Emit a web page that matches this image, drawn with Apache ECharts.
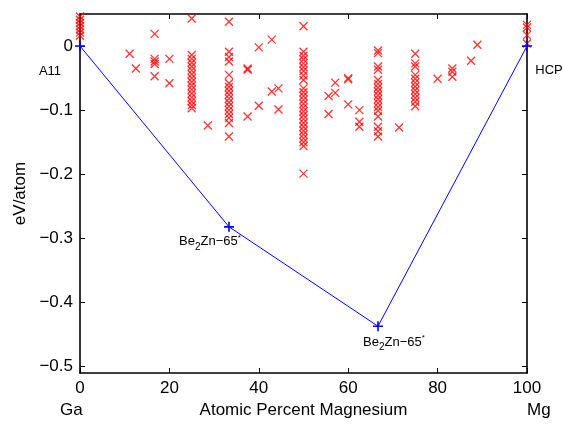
<!DOCTYPE html>
<html>
<head>
<meta charset="utf-8">
<title>Ga-Mg</title>
<script src="https://cdn.jsdelivr.net/npm/echarts@6/dist/echarts.min.js"></script>
<style>
  html, body { margin: 0; padding: 0; background: #fff; }
  #chart { width: 563px; height: 424px; }
</style>
</head>
<body>
<div id="chart"></div>
<script>
// ground-state hull (composition %Mg, energy eV/atom)
var hullX = [0, 33.33, 66.67, 100];
var hullE = [0, -0.282, -0.437, 0];
var hullNames = ['A11', 'Be2Zn-65*', 'Be2Zn-65*', 'HCP'];

// calculated structures, grouped by composition
var compX = [0, 11.1, 12.5, 16.7, 20, 25, 28.6, 33.33, 37.5, 40, 42.9, 44.4, 50,
  55.6, 57.1, 60, 62.5, 66.67, 71.4, 75, 80, 83.3, 87.5, 88.9, 100];
var compE = [
  [0.051, 0.046, 0.041, 0.036, 0.031, 0.026, 0.021, 0.016],
  [-0.012],
  [-0.035],
  [0.019, -0.020, -0.024, -0.028, -0.047],
  [-0.020, -0.058],
  [0.043, -0.014, -0.020, -0.026, -0.032, -0.038, -0.044, -0.050, -0.056, -0.062, -0.068, -0.074, -0.080, -0.086, -0.092, -0.097],
  [-0.124],
  [0.038, -0.009, -0.017, -0.024, -0.045, -0.058, -0.064, -0.070, -0.076, -0.082, -0.088, -0.094, -0.100, -0.106, -0.112, -0.120, -0.141],
  [-0.035, -0.037, -0.110],
  [-0.002, -0.093],
  [0.010, -0.071],
  [-0.066, -0.099],
  [0.031, -0.009, -0.015, -0.021, -0.027, -0.033, -0.039, -0.046, -0.053, -0.066, -0.072, -0.078, -0.084, -0.090, -0.096, -0.102, -0.108, -0.114, -0.120, -0.126, -0.132, -0.138, -0.144, -0.150, -0.156, -0.199],
  [-0.078, -0.106],
  [-0.057, -0.073],
  [-0.050, -0.052, -0.091],
  [-0.100, -0.118, -0.126],
  [-0.007, -0.011, -0.032, -0.037, -0.053, -0.059, -0.065, -0.071, -0.077, -0.083, -0.089, -0.095, -0.101, -0.110, -0.126, -0.133, -0.141],
  [-0.127],
  [-0.012, -0.027, -0.032, -0.045, -0.051, -0.057, -0.063, -0.069, -0.075, -0.081, -0.087, -0.094],
  [-0.051],
  [-0.035, -0.040, -0.048],
  [-0.023],
  [0.002],
  [0.033, 0.029, 0.017, 0.004]
];

var xTicks = [0, 20, 40, 60, 80, 100];
var yTicks = [-0.5, -0.4, -0.3, -0.2, -0.1, 0];

var FONT = '"Liberation Sans", Arial, sans-serif';

var candPts = [];
compX.forEach(function (x, i) {
  compE[i].forEach(function (e) { candPts.push([x, e]); });
});

// label placement for the hull points
var labelOffsets = [[-30, 25], [-19, 15], [16, 16], [22, 24]];
var hullPts = hullX.map(function (x, i) {
  var isBe = hullNames[i].indexOf('Be2Zn') === 0;
  return {
    value: [x, hullE[i]],
    label: {
      show: true,
      position: 'inside',
      offset: labelOffsets[i],
      formatter: isBe ? '{n|Be}{sub|2}{n|Zn\u221265}{sup|*}' : hullNames[i],
      fontFamily: FONT,
      fontSize: 13,
      color: '#000'
    }
  };
});

var minus = function (v) { return String(v).replace('-', '\u2212'); };

var axisLine = { onZero: false, lineStyle: { color: '#000', width: 1.6 } };

var myChart = echarts.init(document.getElementById('chart'));
var option = {
  animation: false,
  grid: { left: 80, right: 36, top: 14, bottom: 50 },
  xAxis: [{
    type: 'value', min: 0, max: 100, interval: 20,
    name: 'Atomic Percent Magnesium', nameLocation: 'middle', nameGap: 29,
    nameTextStyle: { fontFamily: FONT, fontSize: 17, color: '#000' },
    axisLine: axisLine,
    axisTick: { inside: true, length: 5, lineStyle: { color: '#000' }, customValues: xTicks },
    axisLabel: { fontFamily: FONT, fontSize: 17, color: '#000', margin: 7, customValues: xTicks },
    splitLine: { show: false }
  }, {
    type: 'value', min: 0, max: 100, interval: 20, position: 'top',
    axisLine: axisLine,
    axisTick: { inside: true, length: 5, lineStyle: { color: '#000' }, customValues: xTicks },
    axisLabel: { show: false },
    splitLine: { show: false }
  }],
  yAxis: [{
    type: 'value', min: -0.51, max: 0.05,
    name: 'eV/atom', nameLocation: 'middle', nameGap: 51,
    nameTextStyle: { fontFamily: FONT, fontSize: 17, color: '#000' },
    axisLine: axisLine,
    axisTick: { inside: true, length: 5, lineStyle: { color: '#000' }, customValues: yTicks },
    axisLabel: { fontFamily: FONT, fontSize: 17, color: '#000', margin: 7, customValues: yTicks, formatter: minus },
    splitLine: { show: false }
  }, {
    type: 'value', min: -0.51, max: 0.05, position: 'right',
    axisLine: axisLine,
    axisTick: { inside: true, length: 5, lineStyle: { color: '#000' }, customValues: yTicks },
    axisLabel: { show: false, customValues: yTicks },
    splitLine: { show: false }
  }],
  graphic: [
    { type: 'text', left: 60, top: 402, style: { text: 'Ga', font: '17px ' + FONT, fill: '#000' } },
    { type: 'text', left: 527, top: 402, style: { text: 'Mg', font: '17px ' + FONT, fill: '#000' } }
  ],
  series: [{
    type: 'scatter',
    data: candPts,
    symbol: 'path://M0,0L10,10M10,0L0,10',
    symbolSize: 8,
    itemStyle: { color: 'none', borderColor: '#ff0000', borderWidth: 1.3 },
    z: 2
  }, {
    type: 'line',
    data: hullPts,
    symbol: 'path://M5,0L5,10M0,5L10,5',
    symbolSize: 10,
    showAllSymbol: true,
    lineStyle: { color: '#0000ff', width: 1 },
    itemStyle: { color: 'none', borderColor: '#0000ff', borderWidth: 1.6 },
    label: {
      rich: {
        n: { fontFamily: FONT, fontSize: 13, color: '#000' },
        sub: { fontFamily: FONT, fontSize: 10, color: '#000', padding: [10, 0, 0, 0] },
        sup: { fontFamily: FONT, fontSize: 8, color: '#000', padding: [0, 0, 9, 0] }
      }
    },
    z: 3
  }]
};
myChart.setOption(option);
</script>
</body>
</html>
